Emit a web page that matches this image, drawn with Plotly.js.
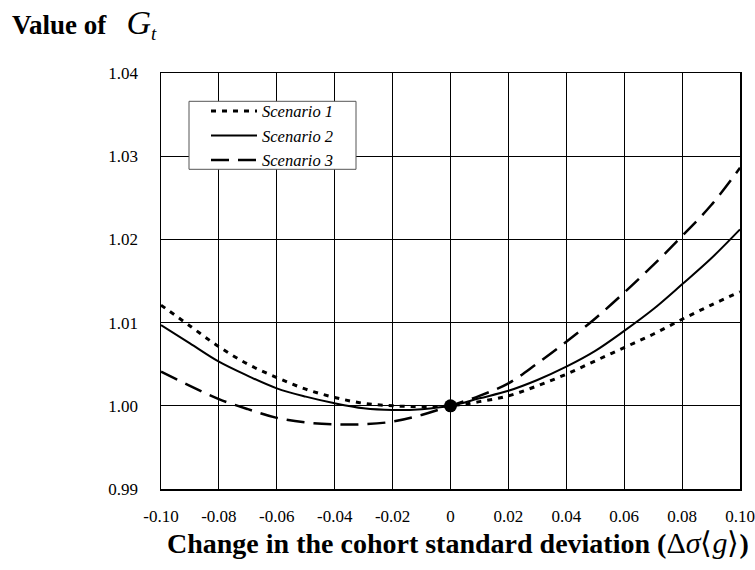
<!DOCTYPE html>
<html>
<head>
<meta charset="utf-8">
<script src="https://cdn.plot.ly/plotly-3.0.1.min.js"></script>
<style>html,body{margin:0;padding:0;background:#fff;}</style>
</head>
<body>
<div id="chart" style="width:755px;height:570px;"></div>
<script>
// ---- data ----
const xValues = [-0.10,-0.09,-0.08,-0.07,-0.06,-0.05,-0.04,-0.03,-0.02,-0.01,0.00,0.01,0.02,0.03,0.04,0.05,0.06,0.07,0.08,0.09,0.10];
const scenario1 = [1.0121,1.0096,1.0071,1.0050,1.0034,1.0020,1.0010,1.0003,1.0000,0.9999,1.0000,1.0005,1.0012,1.0024,1.0038,1.0054,1.0070,1.0086,1.0104,1.0121,1.0137];
const scenario2 = [1.0097,1.0075,1.0053,1.0036,1.0021,1.0011,1.0003,0.9997,0.99950,0.9996,1.0000,1.0009,1.0018,1.0031,1.0047,1.0066,1.0090,1.0116,1.0146,1.0177,1.0212];
const scenario3 = [1.0041,1.0024,1.0008,0.9996,0.99855,0.9980,0.99778,0.99778,0.9981,0.9989,1.0000,1.0012,1.0027,1.0051,1.0077,1.0105,1.0136,1.0169,1.0204,1.0241,1.0286];
const seriesNames = ["Scenario 1","Scenario 2","Scenario 3"];
const pointX = [0];
const pointY = [1.00];
const xTickVals = [-0.10,-0.08,-0.06,-0.04,-0.02,0,0.02,0.04,0.06,0.08,0.10];
const xTickText = ["-0.10","-0.08","-0.06","-0.04","-0.02","0","0.02","0.04","0.06","0.08","0.10"];
const yTickVals = [0.99,1.00,1.01,1.02,1.03,1.04];
const yTickText = ["0.99","1.00","1.01","1.02","1.03","1.04"];
const xTitle = "<b>Change in the cohort standard deviation (</b><span style='font-size:30px'>\u0394<i>\u03c3</i>\u27e8<i>g</i>\u27e9</span><b>)</b>";
const yTitle = "<b>Value of</b>\u00a0\u00a0\u00a0<span style='font-size:34px'><i>G</i></span><sub><i>t</i></sub>";

const serif = "Liberation Serif";

const traces = [
  {x: xValues, y: scenario1, name: seriesNames[0], mode: "lines",
   line: {color: "#000", width: 3, dash: "5px,6px", shape: "spline"}},
  {x: xValues, y: scenario2, name: seriesNames[1], mode: "lines",
   line: {color: "#000", width: 2, dash: "solid", shape: "spline"}},
  {x: xValues, y: scenario3, name: seriesNames[2], mode: "lines",
   line: {color: "#000", width: 2.5, dash: "18px,9px", shape: "spline"}},
  {x: pointX, y: pointY, mode: "markers", showlegend: false, hoverinfo: "skip",
   marker: {color: "#000", size: 13}}
];

const layout = {
  width: 755, height: 570,
  margin: {l: 161, r: 15, t: 73, b: 81},
  paper_bgcolor: "#fff", plot_bgcolor: "#fff",
  font: {family: serif, color: "#000", size: 17},
  title: {
    text: yTitle,
    font: {family: serif, size: 27, color: "#000"},
    x: 12/755, xanchor: "left", xref: "container",
    y: 1 - 25/570, yanchor: "middle", yref: "container"
  },
  xaxis: {
    range: [-0.10, 0.10], tickvals: xTickVals, ticktext: xTickText,
    showgrid: true, gridcolor: "#000", gridwidth: 1, zeroline: false,
    showline: true, linecolor: "#000", linewidth: 1.5, mirror: true,
    ticks: "outside", ticklen: 11, tickcolor: "rgba(0,0,0,0)",
    tickfont: {family: serif, size: 17, color: "#000"}
  },
  yaxis: {
    range: [0.99, 1.04], tickvals: yTickVals, ticktext: yTickText,
    showgrid: true, gridcolor: "#000", gridwidth: 1, zeroline: false,
    showline: true, linecolor: "#000", linewidth: 1.5, mirror: true,
    ticks: "outside", ticklen: 18, tickcolor: "rgba(0,0,0,0)",
    tickfont: {family: serif, size: 17, color: "#000"}
  },
  annotations: [{
    text: xTitle, showarrow: false,
    xref: "paper", yref: "paper",
    x: (458-161)/579, xanchor: "center",
    y: (489-561)/416, yanchor: "bottom",
    font: {family: serif, size: 28, color: "#000"}
  }],
  shapes: [{
    type: "rect", xref: "paper", yref: "paper", layer: "above",
    x0: (189-161)/579, x1: (356-161)/579,
    y0: 1 - (169-72.7)/416, y1: 1 - (101-72.7)/416,
    line: {color: "#555", width: 1}, fillcolor: "#fff"
  }],
  legend: {
    x: (206-161)/579, y: 1 - (93.5-72.7)/416, xanchor: "left", yanchor: "top",
    bgcolor: "rgba(0,0,0,0)", borderwidth: 0,
    font: {family: serif, size: 16.5, color: "#000", style: "italic"},
    itemwidth: 46, tracegroupgap: 0
  },
  showlegend: true
};

Plotly.newPlot("chart", traces, layout, {displayModeBar: false, staticPlot: true});
</script>
</body>
</html>
